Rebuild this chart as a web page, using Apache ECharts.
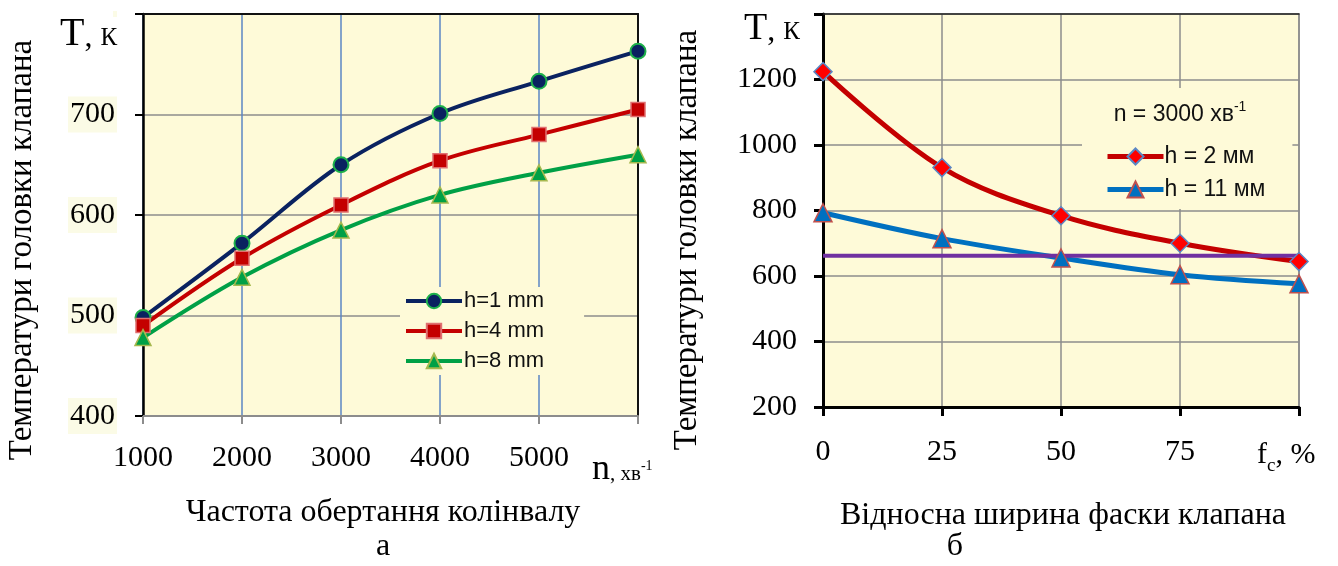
<!DOCTYPE html>
<html><head><meta charset="utf-8">
<script src="https://cdn.jsdelivr.net/npm/echarts@6/dist/echarts.min.js"></script>
<style>html,body{margin:0;padding:0;background:#fff}#c{width:1338px;height:566px}</style>
</head><body><div id="c"></div>
<script>
// ---- data: chart a (temperature vs crankshaft speed) ----
const speedValues = [1000, 2000, 3000, 4000, 5000, 6000];
const tempH1 = [498, 572, 650, 701, 733, 763];
const tempH4 = [490, 557, 610, 654, 680, 705];
const tempH8 = [478, 538, 585, 620, 642, 660];
const seriesNamesA = ['h=1 mm', 'h=4 mm', 'h=8 mm'];
// ---- data: chart б (temperature vs relative chamfer width) ----
const chamferValues = [0, 25, 50, 75, 100];
const tempH2 = [1224, 931, 784, 700, 644];
const tempH11 = [793, 714, 655, 604, 576];
const seriesNamesB = ['h = 2 мм', 'h = 11 мм'];
const limitTemp = 662;
const limitSpan = [0, 103.5];

const BG = '#fefad8';
const SERIF = 'Liberation Serif';
const SANS = 'Liberation Sans';

function pairs(xs, ys) { return xs.map((x, i) => [x, ys[i]]); }

const chart = echarts.init(document.getElementById('c'), null, {renderer: 'canvas'});

const tickLabel = (hideVal) => ({
  fontFamily: SERIF, fontSize: 30, color: '#000',
  formatter: v => (v === hideVal ? '' : String(v))
});

function txt(x, y, text, size, extra) {
  return Object.assign({type: 'text', x: x, y: y, z: 100, style: {
    text: text, fill: '#000', align: 'center', verticalAlign: 'middle',
    fontFamily: SERIF, fontSize: size}}, extra || {});
}

const option = {
  animation: false,
  backgroundColor: '#fff',
  grid: [
    {left: 143, top: 14, width: 495, height: 402, show: true, backgroundColor: BG, borderWidth: 0},
    {left: 823, top: 14, width: 476, height: 393, show: true, backgroundColor: BG, borderWidth: 0}
  ],
  xAxis: [
    {type: 'value', gridIndex: 0, min: 1000, max: 6000, interval: 1000,
     axisLine: {lineStyle: {color: '#8c8c8c', width: 2}},
     axisTick: {show: true, length: 8, lineStyle: {color: '#8c8c8c', width: 2}},
     axisLabel: Object.assign(tickLabel(6000), {margin: 27}),
     splitLine: {show: true, lineStyle: {color: '#5b86c4', width: 1.5}}},
    {type: 'value', gridIndex: 0, min: 1000, max: 6000, position: 'top',
     axisLine: {onZero: false, lineStyle: {color: '#111', width: 2}},
     axisTick: {show: false}, axisLabel: {show: false}, splitLine: {show: false}},
    {type: 'value', gridIndex: 1, min: 0, max: 100, interval: 25,
     axisLine: {lineStyle: {color: '#000', width: 3}},
     axisTick: {show: true, length: 9, lineStyle: {color: '#000', width: 3}},
     axisLabel: Object.assign(tickLabel(100), {margin: 30}),
     splitLine: {show: true, lineStyle: {color: '#8c8c8c', width: 1.5}}},
    {type: 'value', gridIndex: 1, min: 0, max: 100, position: 'top',
     axisLine: {onZero: false, lineStyle: {color: '#222', width: 1.5}},
     axisTick: {show: false}, axisLabel: {show: false}, splitLine: {show: false}}
  ],
  yAxis: [
    {type: 'value', gridIndex: 0, min: 400, max: 800, interval: 100,
     axisLine: {show: true, lineStyle: {color: '#000', width: 2.5}},
     axisTick: {show: true, length: 8, lineStyle: {color: '#000', width: 2}},
     axisLabel: Object.assign(tickLabel(800), {margin: 26, backgroundColor: '#fbfbe6', padding: [3, 2, 3, 2]}),
     splitLine: {show: true, lineStyle: {color: '#8c8c8c', width: 1.5}}},
    {type: 'value', gridIndex: 0, min: 400, max: 800, position: 'right',
     axisLine: {show: true, onZero: false, lineStyle: {color: '#111', width: 2}},
     axisTick: {show: false}, axisLabel: {show: false}, splitLine: {show: false}},
    {type: 'value', gridIndex: 1, min: 200, max: 1400, interval: 200,
     axisLine: {show: true, lineStyle: {color: '#000', width: 3}},
     axisTick: {show: true, length: 9, lineStyle: {color: '#000', width: 3}},
     axisLabel: Object.assign(tickLabel(1400), {margin: 26}),
     splitLine: {show: true, lineStyle: {color: '#8c8c8c', width: 1.5}}},
    {type: 'value', gridIndex: 1, min: 200, max: 1400, position: 'right',
     axisLine: {show: true, onZero: false, lineStyle: {color: '#8c8c8c', width: 1.5}},
     axisTick: {show: false}, axisLabel: {show: false}, splitLine: {show: false}}
  ],
  legend: [
    {data: seriesNamesA, orient: 'vertical', left: 400, top: 287,
     padding: [3, 40, 3, 4], itemGap: 8, itemWidth: 56, itemHeight: 18,
     lineStyle: {width: 4}, backgroundColor: BG,
     textStyle: {fontFamily: SANS, fontSize: 22, color: '#111', padding: [0, 0, 0, -3]}},
    {data: seriesNamesB, orient: 'vertical', left: 1082, top: 88,
     padding: [57, 27, 8, 23], itemGap: 10, itemWidth: 56, itemHeight: 20,
     lineStyle: {width: 5}, backgroundColor: BG,
     textStyle: {fontFamily: SANS, fontSize: 23, color: '#111', padding: [0, 0, 0, -4]}}
  ],
  series: [
    {name: seriesNamesA[0], type: 'line', xAxisIndex: 0, yAxisIndex: 0, smooth: 0.35,
     data: pairs(speedValues, tempH1), symbol: 'circle', symbolSize: 15,
     lineStyle: {color: '#0a2260', width: 4},
     itemStyle: {color: '#0a2260', borderColor: '#1db04a', borderWidth: 2}},
    {name: seriesNamesA[1], type: 'line', xAxisIndex: 0, yAxisIndex: 0, smooth: 0.35,
     data: pairs(speedValues, tempH4), symbol: 'rect', symbolSize: 14,
     lineStyle: {color: '#c40000', width: 4},
     itemStyle: {color: '#c40000', borderColor: '#e07070', borderWidth: 1.5}},
    {name: seriesNamesA[2], type: 'line', xAxisIndex: 0, yAxisIndex: 0, smooth: 0.35,
     data: pairs(speedValues, tempH8), symbol: 'triangle', symbolSize: 16,
     lineStyle: {color: '#00a046', width: 4},
     itemStyle: {color: '#00a046', borderColor: '#a6b84e', borderWidth: 1.5}},
    {name: seriesNamesB[0], type: 'line', xAxisIndex: 2, yAxisIndex: 2, smooth: 0.35,
     data: pairs(chamferValues, tempH2), symbol: 'diamond', symbolSize: 18,
     lineStyle: {color: '#c40000', width: 5},
     itemStyle: {color: '#ff0000', borderColor: '#5b86c4', borderWidth: 1.5}},
    {name: seriesNamesB[1], type: 'line', xAxisIndex: 2, yAxisIndex: 2, smooth: 0.35,
     data: pairs(chamferValues, tempH11), symbol: 'triangle', symbolSize: 18,
     lineStyle: {color: '#0070c0', width: 5},
     itemStyle: {color: '#0070c0', borderColor: '#c0504d', borderWidth: 1.5}},
    {name: 'limit', type: 'line', xAxisIndex: 2, yAxisIndex: 2, clip: false, silent: true,
     data: limitSpan.map(x => [x, limitTemp]), symbol: 'none',
     lineStyle: {color: '#7030a0', width: 4}}
  ],
  graphic: [
    {type: 'text', left: 60, top: 14, z: 100, style: {
      text: '{t|Т}{c|, }{k|К}', fill: '#000',
      rich: {t: {fontFamily: SERIF, fontSize: 40, verticalAlign: 'bottom'},
             c: {fontFamily: SERIF, fontSize: 32, verticalAlign: 'bottom'},
             k: {fontFamily: SERIF, fontSize: 25, verticalAlign: 'bottom', padding: [0, 0, 3, 0]}}}},
    {type: 'text', left: 744, top: 10, z: 100, style: {
      text: '{t|Т}{c|, }{k|К}', fill: '#000',
      rich: {t: {fontFamily: SERIF, fontSize: 38, verticalAlign: 'bottom'},
             c: {fontFamily: SERIF, fontSize: 32, verticalAlign: 'bottom'},
             k: {fontFamily: SERIF, fontSize: 25, verticalAlign: 'bottom', padding: [0, 0, 3, 0]}}}},
    {type: 'text', left: 592, top: 452, z: 100, style: {
      text: '{n|n}{s|, хв}{p|-1}', fill: '#000',
      rich: {n: {fontFamily: SERIF, fontSize: 36, verticalAlign: 'bottom'},
             s: {fontFamily: SERIF, fontSize: 21, verticalAlign: 'bottom', padding: [0, 0, 3, 0]},
             p: {fontFamily: SERIF, fontSize: 14, verticalAlign: 'bottom', padding: [0, 0, 15, 0]}}}},
    {type: 'text', left: 1257, top: 440, z: 100, style: {
      text: '{f|f}{c|c}{r|, %}', fill: '#000',
      rich: {f: {fontFamily: SERIF, fontSize: 30, verticalAlign: 'bottom'},
             c: {fontFamily: SERIF, fontSize: 19, verticalAlign: 'bottom', padding: [0, 0, -6, 0]},
             r: {fontFamily: SERIF, fontSize: 30, verticalAlign: 'bottom'}}}},
    {type: 'text', x: 1180, y: 113, z: 100, style: {
      text: '{a|n = 3000 хв}{p|-1}', fill: '#111', align: 'center', verticalAlign: 'middle',
      rich: {a: {fontFamily: SANS, fontSize: 23, verticalAlign: 'bottom'},
             p: {fontFamily: SANS, fontSize: 14, verticalAlign: 'bottom', padding: [0, 0, 12, 0]}}}},
    txt(383, 513, 'Частота обертання колінвалу', 32),
    txt(1063, 516, 'Відносна ширина фаски клапана', 32),
    txt(383, 547, 'а', 32),
    txt(955, 547, 'б', 32),
    txt(22, 250, 'Температури головки клапана', 33, {rotation: Math.PI / 2}),
    txt(687, 240, 'Температури головки клапана', 33, {rotation: Math.PI / 2})
  ]
};
chart.setOption(option);
</script></body></html>
